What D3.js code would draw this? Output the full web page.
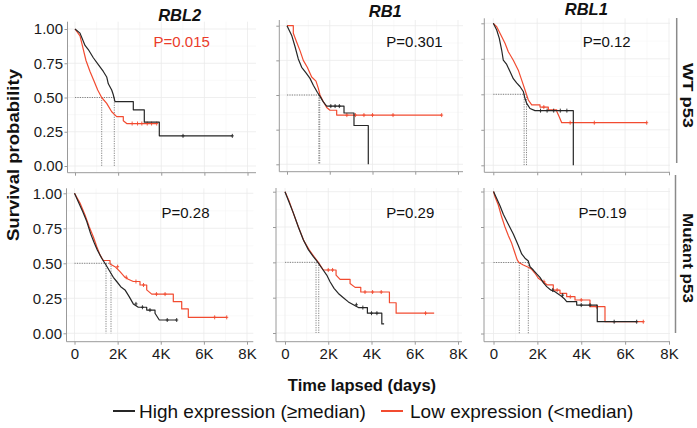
<!DOCTYPE html>
<html><head><meta charset="utf-8">
<script src="https://cdn.jsdelivr.net/npm/d3@7"></script>
<style>
body{margin:0;background:#fff}
svg{display:block}
text{font-family:"Liberation Sans",Arial,sans-serif}
</style>
</head><body>
<svg id="chart" width="697" height="428"></svg>
<script>
// ---------------- DATA ----------------
const genes = ["RBL2", "RB1", "RBL1"];
const groups = ["WT p53", "Mutant p53"];
const pValues = [["P=0.015", "P=0.301", "P=0.12"], ["P=0.28", "P=0.29", "P=0.19"]];
const pSignificant = [[true, false, false], [false, false, false]];
const xTicks = [0, 2000, 4000, 6000, 8000];
const xTickLabels = ["0", "2K", "4K", "6K", "8K"];
const xMinor = [1000, 3000, 5000, 7000];
const yTicks = [0, 0.25, 0.5, 0.75, 1];
const yTickLabels = ["0.00", "0.25", "0.50", "0.75", "1.00"];
const yMinor = [0.125, 0.375, 0.625, 0.875];
const legendLabels = ["High expression (\u2265median)", "Low expression (<median)"];
const xTitle = "Time lapsed (days)";
const yTitle = "Survival probability";

// Kaplan-Meier step points [time (days), survival]
const wtRBL2High = [[0,1],[232,0.97],[464,0.88],[617,0.85],[849,0.79],[1081,0.74],[1313,0.69],[1470,0.65],[1545,0.60],[1702,0.555],[1776,0.52],[1855,0.47],[2704,0.41],[3214,0.32],[3910,0.22],[7296,0.22]];
const wtRBL2Low  = [[0,1],[232,0.95],[356,0.87],[510,0.77],[696,0.69],[881,0.62],[1053,0.555],[1238,0.50],[1470,0.457],[1702,0.396],[1934,0.36],[2240,0.33],[2398,0.31],[3790,0.31]];
const wtRB1High  = [[0,1],[220,0.93],[374,0.85],[528,0.76],[688,0.70],[889,0.66],[1076,0.62],[1231,0.57],[1418,0.52],[1544,0.49],[1698,0.45],[1856,0.42],[2667,0.37],[3134,0.28],[3803,0]];
const wtRB1Low   = [[0,1],[295,0.945],[454,0.88],[608,0.82],[763,0.75],[950,0.70],[1155,0.63],[1356,0.60],[1464,0.55],[1544,0.50],[1670,0.46],[1856,0.41],[2011,0.39],[2324,0.355],[7236,0.355]];
const wtRBL1High = [[0,1],[155,0.953],[273,0.894],[383,0.81],[455,0.74],[610,0.71],[760,0.66],[911,0.61],[1062,0.58],[1214,0.555],[1366,0.52],[1444,0.47],[1520,0.436],[1671,0.40],[1899,0.385],[3643,0]];
const wtRBL1Low  = [[0,1],[155,0.976],[305,0.93],[533,0.86],[683,0.80],[911,0.74],[1138,0.67],[1293,0.60],[1444,0.53],[1594,0.46],[1749,0.425],[2127,0.41],[2505,0.39],[2887,0.38],[3005,0.34],[3115,0.30],[6985,0.30]];
const mutRBL2High = [[0,1],[176,0.94],[380,0.87],[566,0.80],[751,0.71],[904,0.65],[1058,0.595],[1262,0.536],[1461,0.488],[1647,0.44],[1800,0.40],[1957,0.37],[2143,0.333],[2342,0.31],[2542,0.26],[2727,0.21],[2959,0.186],[3349,0.166],[3734,0.143],[3933,0.095],[4740,0.095]];
const mutRBL2Low  = [[0,1],[255,0.93],[487,0.845],[686,0.76],[872,0.69],[1030,0.62],[1183,0.56],[1336,0.52],[1647,0.495],[1879,0.476],[2111,0.44],[2342,0.40],[2495,0.386],[2727,0.37],[3038,0.345],[3349,0.31],[3581,0.28],[4582,0.226],[4972,0.174],[5278,0.114],[7060,0.114]];
const mutRB1High  = [[0,1],[153,0.94],[384,0.85],[616,0.75],[847,0.66],[1079,0.59],[1310,0.54],[1495,0.505],[1699,0.46],[1930,0.41],[2083,0.363],[2269,0.316],[2468,0.28],[2699,0.25],[2931,0.22],[3162,0.20],[3394,0.18],[3810,0.14],[4477,0.064],[4583,0.064]];
const mutRB1Low   = [[0,1],[199,0.93],[417,0.835],[648,0.74],[880,0.65],[1111,0.59],[1343,0.54],[1542,0.50],[1773,0.446],[2361,0.41],[2546,0.38],[3009,0.35],[3241,0.323],[3504,0.29],[4829,0.214],[5139,0.14],[6898,0.14]];
const mutRBL1High = [[0,1],[146,0.95],[296,0.90],[447,0.84],[675,0.77],[903,0.70],[1131,0.62],[1285,0.56],[1436,0.53],[1587,0.51],[1664,0.47],[1815,0.447],[1969,0.42],[2119,0.395],[2270,0.358],[2425,0.33],[2607,0.306],[2803,0.294],[3031,0.27],[3213,0.247],[3337,0.224],[3792,0.20],[4730,0.083],[6527,0.083]];
const mutRBL1Low  = [[0,1],[68,0.963],[219,0.905],[374,0.82],[524,0.75],[675,0.69],[830,0.635],[980,0.565],[1085,0.517],[1176,0.498],[1358,0.482],[1587,0.466],[1741,0.452],[1892,0.424],[2042,0.389],[2270,0.365],[2452,0.342],[2726,0.306],[3031,0.283],[3336,0.259],[3715,0.236],[4398,0.189],[5082,0.083],[6828,0.083]];

// censoring times (days)
const wtRBL2HighCens = [5010, 7296];
const wtRBL2LowCens  = [2650, 2900, 3100, 3350, 3550, 3790];
const wtRB1HighCens  = [2050, 2250, 2450];
const wtRB1LowCens   = [2800, 3200, 3600, 4000, 4960, 7236];
const wtRBL1HighCens = [2150, 2450, 2750, 3050, 3350];
const wtRBL1LowCens  = [2300, 3500, 4600, 6985];
const mutRBL2HighCens = [2850, 3150, 3500, 4300, 4740];
const mutRBL2LowCens  = [2000, 2400, 2850, 3200, 3800, 4200, 6500, 7060];
const mutRB1HighCens  = [3300, 3600, 4000, 4250];
const mutRB1LowCens   = [2000, 2200, 3700, 4050, 4450, 6500];
const mutRBL1HighCens = [2700, 3150, 4000, 4400, 5500, 6527];
const mutRBL1LowCens  = [2300, 2900, 3500, 4000, 4700, 6828];

// median survival times [high, low]
const wtMedians  = [[1823, 1238], [1490, 1530], [1404, 1512]];
const mutMedians = [[1461, 1693], [1435, 1560], [1587, 1176]];

// ---------------- LAYOUT ----------------
const highColor = "#262626", lowColor = "#f24b30", sigColor = "#ea3b2a";
const layout = [
  [{l:67.5,r:256,t:21.7,b:172.7,x0:75,x8:247.5,y1:29,y0:166},
   {l:279.3,r:463,t:20,b:171.7,x0:287,x8:458,y1:25.7,y0:164.3},
   {l:484.3,r:670,t:18.3,b:172.3,x0:493.3,x8:669,y1:23.3,y0:165.3}],
  [{l:66.5,r:253.3,t:188.3,b:341.7,x0:74.5,x8:247,y1:193.3,y0:333.3},
   {l:276,r:462,t:188,b:341.7,x0:285,x8:458,y1:191.7,y0:333},
   {l:484,r:670,t:188,b:341.7,x0:493.5,x8:669,y1:191.5,y0:333.5}]
];
const panelData = [
  [[wtRBL2High, wtRBL2Low, wtRBL2HighCens, wtRBL2LowCens],
   [wtRB1High, wtRB1Low, wtRB1HighCens, wtRB1LowCens],
   [wtRBL1High, wtRBL1Low, wtRBL1HighCens, wtRBL1LowCens]],
  [[mutRBL2High, mutRBL2Low, mutRBL2HighCens, mutRBL2LowCens],
   [mutRB1High, mutRB1Low, mutRB1HighCens, mutRB1LowCens],
   [mutRBL1High, mutRBL1Low, mutRBL1HighCens, mutRBL1LowCens]]
];
const medians = [wtMedians, mutMedians];

const svg = d3.select("#chart");

function survAt(curve, t) {
  let s = 1;
  for (const p of curve) { if (p[0] <= t) s = p[1]; else break; }
  return s;
}
// step path: many tiny steps (dense events) render as a fine staircase line,
// longer gaps keep an explicit horizontal-then-vertical corner
function stepTrace(curve, x) {
  const out = [curve[0]];
  for (let i = 1; i < curve.length; i++) {
    const p = curve[i - 1], q = curve[i];
    if (x(q[0]) - x(p[0]) > 5.5) out.push([q[0], p[1]]);
    out.push(q);
  }
  return out;
}

for (let r = 0; r < 2; r++) {
  for (let c = 0; c < 3; c++) {
    const L = layout[r][c];
    const x = d3.scaleLinear().domain([0, 8000]).range([L.x0, L.x8]);
    const y = d3.scaleLinear().domain([0, 1]).range([L.y0, L.y1]);
    const g = svg.append("g");

    // gridlines
    g.selectAll(".gxm").data(xMinor).join("line")
      .attr("x1", d => x(d)).attr("x2", d => x(d)).attr("y1", L.t).attr("y2", L.b)
      .attr("stroke", "#f5f5f5").attr("stroke-width", 0.6);
    g.selectAll(".gym").data(yMinor).join("line")
      .attr("x1", L.l).attr("x2", L.r).attr("y1", d => y(d)).attr("y2", d => y(d))
      .attr("stroke", "#f5f5f5").attr("stroke-width", 0.6);
    g.selectAll(".gx").data(xTicks).join("line")
      .attr("x1", d => x(d)).attr("x2", d => x(d)).attr("y1", L.t).attr("y2", L.b)
      .attr("stroke", "#ebebeb").attr("stroke-width", 0.8);
    g.selectAll(".gy").data(yTicks).join("line")
      .attr("x1", L.l).attr("x2", L.r).attr("y1", d => y(d)).attr("y2", d => y(d))
      .attr("stroke", "#ebebeb").attr("stroke-width", 0.8);

    // axes
    const ax = g.append("g").attr("transform", `translate(0,${L.b})`)
      .call(d3.axisBottom(x).tickValues(xTicks).tickSize(3).tickSizeOuter(0)
        .tickFormat((d, i) => r === 1 ? xTickLabels[i] : ""));
    const ay = g.append("g").attr("transform", `translate(${L.l},0)`)
      .call(d3.axisLeft(y).tickValues(yTicks).tickSize(3).tickSizeOuter(0)
        .tickFormat((d, i) => c === 0 ? yTickLabels[i] : ""));
    [ax, ay].forEach(a => {
      a.select(".domain").remove();
      a.selectAll(".tick line").attr("stroke", "#9a9a9a");
      a.selectAll(".tick text").attr("font-size", 15).attr("fill", "#1a1a1a")
        .attr("font-family", "'Liberation Sans', Arial, sans-serif");
    });
    ax.selectAll(".tick text").attr("dy", "0.75em").attr("y", 6);
    ay.selectAll(".tick text").attr("x", -4.5);
    g.append("line").attr("x1", L.l).attr("x2", L.r).attr("y1", L.b).attr("y2", L.b)
      .attr("stroke", "#9a9a9a").attr("stroke-width", 1);
    g.append("line").attr("x1", L.l).attr("x2", L.l).attr("y1", L.t).attr("y2", L.b)
      .attr("stroke", "#9a9a9a").attr("stroke-width", 1);

    // median lines
    const med = medians[r][c];
    g.append("line").attr("x1", x(0)).attr("x2", x(d3.max(med)))
      .attr("y1", y(0.5)).attr("y2", y(0.5))
      .attr("stroke", "#666").attr("stroke-width", 0.8).attr("stroke-dasharray", "1.2,1.2");
    g.selectAll(".medv").data(med).join("line")
      .attr("x1", d => x(d)).attr("x2", d => x(d)).attr("y1", y(0.5)).attr("y2", y(0))
      .attr("stroke", "#666").attr("stroke-width", 0.8).attr("stroke-dasharray", "1.2,1.2");

    // curves
    const [hi, lo, hiC, loC] = panelData[r][c];
    const line = d3.line().x(d => x(d[0])).y(d => y(d[1])).curve(d3.curveLinear);
    [[lo, lowColor, loC], [hi, highColor, hiC]].forEach(([cur, col, cens]) => {
      g.append("path").attr("d", line(stepTrace(cur, x))).attr("fill", "none")
        .attr("stroke", col).attr("stroke-width", 1.2).attr("stroke-linejoin", "round");
      g.selectAll(null).data(cens).join("path")
        .attr("d", d => {
          const px = x(d), py = y(survAt(cur, d));
          return `M${px},${py - 2}V${py + 2}M${px - 1.5},${py}H${px + 1.5}`;
        })
        .attr("stroke", col).attr("stroke-width", 0.9).attr("fill", "none");
    });
  }
}

// gene titles
const geneX = [179.7, 385.3, 586.3], geneY = [20.7, 16.7, 15];
genes.forEach((gname, i) => {
  svg.append("text").attr("x", geneX[i]).attr("y", geneY[i]).attr("text-anchor", "middle")
    .attr("font-size", 16.5).attr("font-weight", "bold").attr("font-style", "italic")
    .attr("fill", "#111").text(gname);
});

// p-values
const pX = [[181.7, 414.5, 606.7], [185.5, 410.3, 602.5]], pY = [46.7, 218.3];
for (let r = 0; r < 2; r++) for (let c = 0; c < 3; c++) {
  svg.append("text").attr("x", pX[r][c]).attr("y", pY[r]).attr("text-anchor", "middle")
    .attr("font-size", 15).attr("fill", pSignificant[r][c] ? sigColor : "#111")
    .text(pValues[r][c]);
}

// strips on the right
const stripLine = [{x:676.7, y1:18, y2:163}, {x:675.5, y1:175, y2:333}];
const stripText = [{x:688.5, y:95.5, len:65}, {x:688.5, y:258, len:90}];
groups.forEach((gr, i) => {
  svg.append("line").attr("x1", stripLine[i].x).attr("x2", stripLine[i].x)
    .attr("y1", stripLine[i].y1).attr("y2", stripLine[i].y2)
    .attr("stroke", "#8a8a8a").attr("stroke-width", 1.5);
  svg.append("text").attr("transform", `translate(${stripText[i].x},${stripText[i].y}) rotate(90)`)
    .attr("text-anchor", "middle").attr("dy", "0.35em")
    .attr("font-size", 15.5).attr("font-weight", "bold").attr("fill", "#111")
    .attr("textLength", stripText[i].len).attr("lengthAdjust", "spacingAndGlyphs")
    .text(gr);
});

// axis titles
svg.append("text").attr("transform", "translate(13,155) rotate(-90)")
  .attr("text-anchor", "middle").attr("dy", "0.35em")
  .attr("font-size", 16.5).attr("font-weight", "bold").attr("fill", "#111")
  .attr("textLength", 172).attr("lengthAdjust", "spacingAndGlyphs")
  .text(yTitle);
svg.append("text").attr("x", 362).attr("y", 391).attr("text-anchor", "middle")
  .attr("font-size", 16.5).attr("font-weight", "bold").attr("fill", "#111").text(xTitle);

// legend
const legX = [113, 381], legTextX = [139, 410], legY = 411;
const legColors = [highColor, lowColor];
legendLabels.forEach((lab, i) => {
  svg.append("line").attr("x1", legX[i]).attr("x2", legX[i] + 22)
    .attr("y1", legY).attr("y2", legY).attr("stroke", legColors[i]).attr("stroke-width", 2);
  svg.append("text").attr("x", legTextX[i]).attr("y", legY).attr("dy", "0.35em")
    .attr("font-size", 19).attr("fill", "#111").text(lab);
});
</script>
</body></html>
